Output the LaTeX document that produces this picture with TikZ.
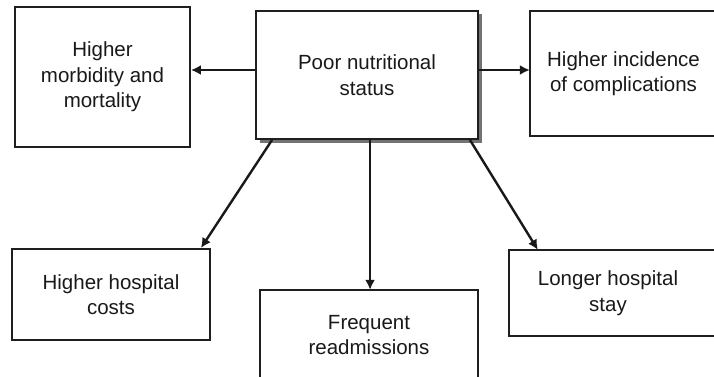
\documentclass[tikz,border=0pt]{standalone}
\usepackage{fontspec}
\setmainfont{Liberation Sans}
\usetikzlibrary{arrows.meta,calc,shadows}
\begin{document}
\begin{tikzpicture}[x=1pt,y=-1pt,
  box/.style={draw=black!88, line width=1.9pt, rectangle, align=center, inner sep=0pt,
    font=\fontsize{20.5}{25.5}\selectfont, text=black!90},
  openbox/.style={rectangle, inner sep=0pt},
  frame/.style={draw=black!88, line width=1.9pt},
  boxtext/.style={font=\fontsize{20.5}{25.5}\selectfont, text=black!90, align=center},
  conn/.style={draw=black!90, line width=2.4pt, -{Latex[length=10pt,width=10pt]}}]
\useasboundingbox (0,0) rectangle (714,377);
\fill[white] (0,0) rectangle (714,377);
\coordinate (y70) at (0,70);
\node[box, minimum width=175pt, minimum height=140pt] (morb) at (102.5,77) {Higher\\morbidity and\\mortality};
\node[box, minimum width=222pt, minimum height=128pt, fill=white,
  drop shadow={shadow xshift=3.5pt, shadow yshift=-3.5pt, fill=black!55, opacity=1}] (poor) at (367,75) {Poor nutritional\\status};
\node[openbox, minimum width=184pt, minimum height=125pt,
  label={[boxtext, xshift=1.5pt]center:Higher incidence\\of complications}] (compl) at (622,73.5) {};
\draw[frame] (compl.north east) -- (compl.north west) -- (compl.south west) -- (compl.south east);
\node[box, minimum width=198pt, minimum height=91pt] (costs) at (111,294.5) {Higher hospital\\costs};
\node[openbox, minimum width=218pt, minimum height=90pt,
  label={[boxtext]center:Frequent\\readmissions}] (readm) at (369,335) {};
\draw[frame] (readm.south west) -- (readm.north west) -- (readm.north east) -- (readm.south east);
\node[openbox, minimum width=205pt, minimum height=86pt,
  label={[boxtext, xshift=-3.5pt]center:Longer hospital\\stay}] (stay) at (611.5,293) {};
\draw[frame] (stay.north east) -- (stay.north west) -- (stay.south west) -- (stay.south east);
\draw[conn] (poor.west |- y70) -- (morb.east |- y70);
\draw[conn] (poor.east |- y70) -- (compl.west |- y70);
\draw[conn] ($(poor.south west)+(17,0)$) -- ($(costs.north east)+(-10,0)$);
\coordinate (rd) at ($(poor.south west)+(115,0)$);
\draw[conn] (rd) -- (rd |- readm.north);
\draw[conn] ($(poor.south east)+(-9,0)$) -- ($(stay.north west)+(29,0)$);
\end{tikzpicture}
\end{document}
